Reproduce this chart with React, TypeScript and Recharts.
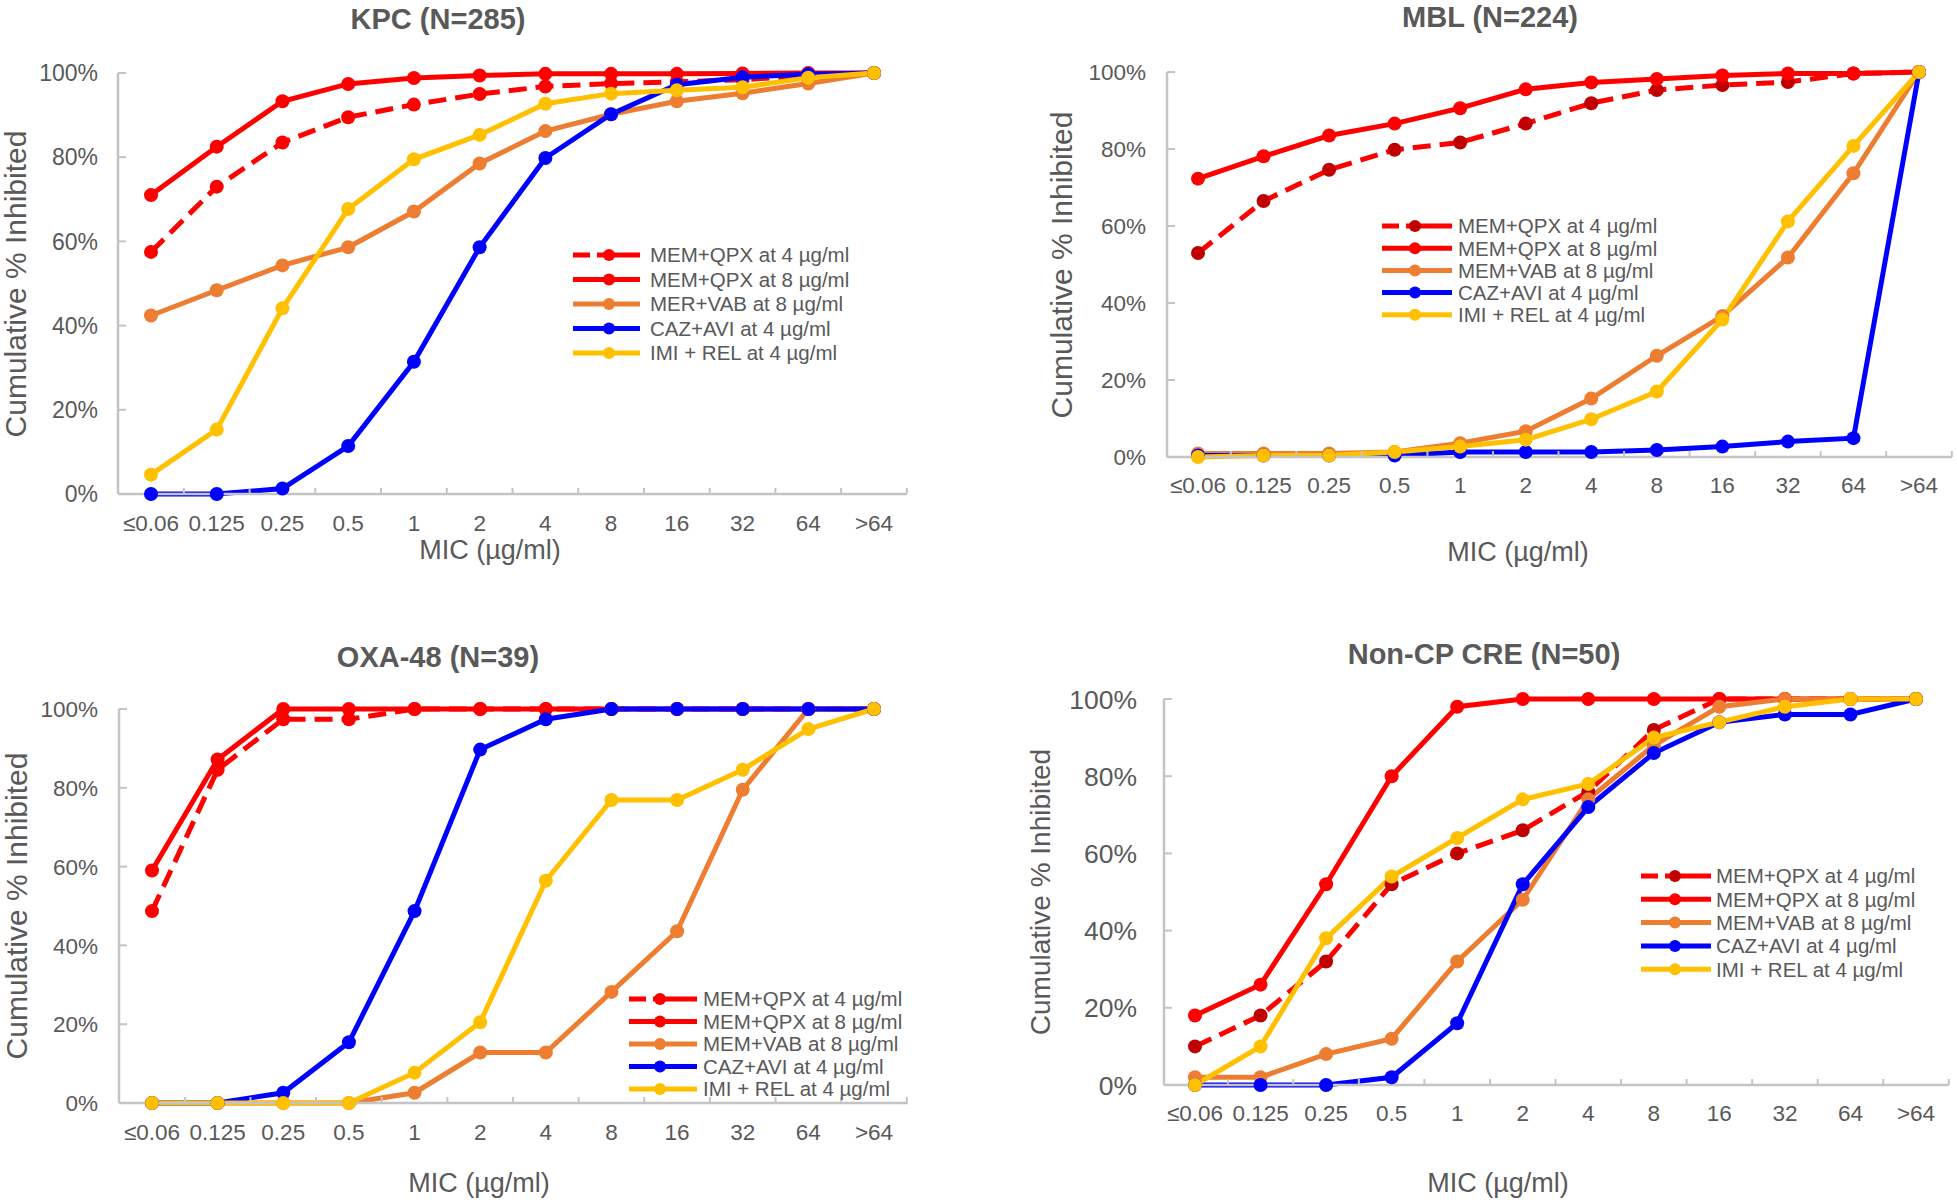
import React from 'react';
import { LineChart, Line, XAxis, YAxis, Legend } from 'recharts';

// ---------- shared categories / labels ----------
const MIC_LABELS = ['≤0.06', '0.125', '0.25', '0.5', '1', '2', '4', '8', '16', '32', '64', '>64'];
const Y_TICKS = [0, 20, 40, 60, 80, 100];
const SERIES_KEYS = ['q4', 'q8', 'vab', 'caz', 'imi'];
const NAMES_KPC = ['MEM+QPX at 4 µg/ml', 'MEM+QPX at 8 µg/ml', 'MER+VAB at 8 µg/ml', 'CAZ+AVI at 4 µg/ml', 'IMI + REL at 4 µg/ml'];
const NAMES_OTHER = ['MEM+QPX at 4 µg/ml', 'MEM+QPX at 8 µg/ml', 'MEM+VAB at 8 µg/ml', 'CAZ+AVI at 4 µg/ml', 'IMI + REL at 4 µg/ml'];
const SERIES_COLORS = ['#FF0000', '#FF0000', '#ED7D31', '#0000FF', '#FFC000'];
const Y_LABEL = 'Cumulative % Inhibited';
const X_LABEL = 'MIC (µg/ml)';

// ---------- KPC (N=285) ----------
const KPC_MEM_QPX_4 = [57.5, 73, 83.5, 89.5, 92.5, 95, 96.8, 97.5, 97.9, 98.4, 99.4, 100];
const KPC_MEM_QPX_8 = [71, 82.5, 93.3, 97.4, 98.8, 99.4, 99.8, 99.8, 99.8, 99.9, 100, 100];
const KPC_MER_VAB_8 = [42.4, 48.4, 54.3, 58.6, 67.1, 78.5, 86.2, 90.2, 93.3, 95.2, 97.5, 100];
const KPC_CAZ_AVI_4 = [0, 0, 1.3, 11.4, 31.4, 58.6, 79.8, 90.2, 97.2, 99, 99.7, 100];
const KPC_IMI_REL_4 = [4.6, 15.3, 44.1, 67.7, 79.5, 85.3, 92.7, 95.1, 95.9, 96.6, 98.9, 100];

// ---------- MBL (N=224) ----------
const MBL_MEM_QPX_4 = [53, 66.5, 74.6, 79.8, 81.7, 86.6, 91.9, 95.3, 96.6, 97.4, 99.6, 100];
const MBL_MEM_QPX_8 = [72.3, 78.1, 83.5, 86.6, 90.6, 95.5, 97.3, 98.2, 99.1, 99.6, 99.6, 100];
const MBL_MEM_VAB_8 = [0.9, 0.9, 0.9, 1.3, 3.6, 6.7, 15.2, 26.3, 36.6, 51.8, 73.7, 100];
const MBL_CAZ_AVI_4 = [0.4, 0.4, 0.4, 0.4, 1.3, 1.3, 1.3, 1.8, 2.7, 4.0, 4.9, 100];
const MBL_IMI_REL_4 = [0, 0.4, 0.4, 1.3, 2.7, 4.5, 9.8, 17, 35.7, 61.2, 80.8, 100];

// ---------- OXA-48 (N=39) ----------
const OXA_MEM_QPX_4 = [48.7, 84.6, 97.4, 97.4, 100, 100, 100, 100, 100, 100, 100, 100];
const OXA_MEM_QPX_8 = [59, 87.2, 100, 100, 100, 100, 100, 100, 100, 100, 100, 100];
const OXA_MEM_VAB_8 = [0, 0, 0, 0, 2.6, 12.8, 12.8, 28.2, 43.6, 79.5, 100, 100];
const OXA_CAZ_AVI_4 = [0, 0, 2.6, 15.4, 48.7, 89.7, 97.4, 100, 100, 100, 100, 100];
const OXA_IMI_REL_4 = [0, 0, 0, 0, 7.7, 20.5, 56.4, 76.9, 76.9, 84.6, 94.9, 100];

// ---------- Non-CP CRE (N=50) ----------
const NCP_MEM_QPX_4 = [10, 18, 32, 52, 60, 66, 76, 92, 100, 100, 100, 100];
const NCP_MEM_QPX_8 = [18, 26, 52, 80, 98, 100, 100, 100, 100, 100, 100, 100];
const NCP_MEM_VAB_8 = [2, 2, 8, 12, 32, 48, 74, 88, 98, 100, 100, 100];
const NCP_CAZ_AVI_4 = [0, 0, 0, 2, 16, 52, 72, 86, 94, 96, 96, 100];
const NCP_IMI_REL_4 = [0, 10, 38, 54, 64, 74, 78, 90, 94, 98, 100, 100];

// ---------- styles ----------
const FONT = "'Liberation Sans', Arial, Helvetica, sans-serif";
const TEXT_COLOR = '#595959';
const AXIS_COLOR = '#C4C4C4';
const Y_AXIS_W = 120;
const M_TOP = 20;
const M_RIGHT = 4;
const X_AXIS_H = 60;
const M_BOTTOM = 6;

type LegendCfg = { x: number; len: number; mk: number; tx: number; y0: number; gap: number };
type PanelCfg = {
  title: string;
  names: string[];
  series: number[][];
  axisX: number; plotRight: number; plotTop: number; plotBottom: number;
  padL: number; padR: number;
  yTickFont: number; yTickGap: number; xTickOffset: number;
  titlePos: [number, number]; yLabelPos: [number, number]; yLabelFont: number; micPos: [number, number];
  legend: LegendCfg;
  dashMarker: string;
};

const PANELS: PanelCfg[] = [
  {
    title: 'KPC (N=285)', names: NAMES_KPC,
    series: [KPC_MEM_QPX_4, KPC_MEM_QPX_8, KPC_MER_VAB_8, KPC_CAZ_AVI_4, KPC_IMI_REL_4],
    axisX: 118, plotRight: 907, plotTop: 73, plotBottom: 494, padL: 33, padR: 33,
    yTickFont: 23, yTickGap: 20, xTickOffset: 37,
    titlePos: [438, 19], yLabelPos: [16, 284], yLabelFont: 30, micPos: [490, 550],
    legend: { x: 573, len: 67, mk: 36, tx: 77, y0: 255, gap: 24.5 }, dashMarker: '#FF0000',
  },
  {
    title: 'MBL (N=224)', names: NAMES_OTHER,
    series: [MBL_MEM_QPX_4, MBL_MEM_QPX_8, MBL_MEM_VAB_8, MBL_CAZ_AVI_4, MBL_IMI_REL_4],
    axisX: 1167, plotRight: 1952, plotTop: 72, plotBottom: 457, padL: 31, padR: 33,
    yTickFont: 22.5, yTickGap: 21, xTickOffset: 36,
    titlePos: [1490, 17], yLabelPos: [1062, 265], yLabelFont: 30, micPos: [1518, 552],
    legend: { x: 1382, len: 70, mk: 33, tx: 76, y0: 226, gap: 22.2 }, dashMarker: '#C00000',
  },
  {
    title: 'OXA-48 (N=39)', names: NAMES_OTHER,
    series: [OXA_MEM_QPX_4, OXA_MEM_QPX_8, OXA_MEM_VAB_8, OXA_CAZ_AVI_4, OXA_IMI_REL_4],
    axisX: 119, plotRight: 908, plotTop: 709, plotBottom: 1103, padL: 33, padR: 34,
    yTickFont: 22.5, yTickGap: 21, xTickOffset: 37,
    titlePos: [438, 657], yLabelPos: [17, 906], yLabelFont: 30, micPos: [479, 1183],
    legend: { x: 629, len: 68, mk: 31, tx: 74, y0: 999, gap: 22.5 }, dashMarker: '#FF0000',
  },
  {
    title: 'Non-CP CRE (N=50)', names: NAMES_OTHER,
    series: [NCP_MEM_QPX_4, NCP_MEM_QPX_8, NCP_MEM_VAB_8, NCP_CAZ_AVI_4, NCP_IMI_REL_4],
    axisX: 1164, plotRight: 1949, plotTop: 699, plotBottom: 1085, padL: 31, padR: 33,
    yTickFont: 26.5, yTickGap: 27, xTickOffset: 36,
    titlePos: [1484, 654], yLabelPos: [1041, 892], yLabelFont: 28, micPos: [1498, 1183],
    legend: { x: 1641, len: 70, mk: 34, tx: 75, y0: 876, gap: 23.3 }, dashMarker: '#C00000',
  },
];

function TextAt({ x, y, size, bold, rotate, children }: any) {
  return (
    <div
      style={{
        position: 'absolute', left: x, top: y,
        transform: `translate(-50%, -50%)${rotate ? ' rotate(-90deg)' : ''}`,
        fontSize: size, fontWeight: bold ? 700 : 400, color: TEXT_COLOR,
        fontFamily: FONT, whiteSpace: 'nowrap', lineHeight: 1,
      }}
    >
      {children}
    </div>
  );
}

function Panel({ cfg }: { cfg: PanelCfg }) {
  const data = MIC_LABELS.map((mic, i) => {
    const row: any = { mic };
    SERIES_KEYS.forEach((k, s) => { row[k] = cfg.series[s][i]; });
    return row;
  });
  const chartLeft = cfg.axisX - Y_AXIS_W;
  const chartTop = cfg.plotTop - M_TOP;
  const width = Y_AXIS_W + (cfg.plotRight - cfg.axisX) + M_RIGHT;
  const height = M_TOP + (cfg.plotBottom - cfg.plotTop) + X_AXIS_H + M_BOTTOM;
  const step = (cfg.plotRight - cfg.axisX - cfg.padL - cfg.padR) / (MIC_LABELS.length - 1);
  const half = step / 2;

  const XTick = (props: any) => {
    const { x, y, payload } = props;
    const axisY = y - cfg.xTickOffset;
    return (
      <g>
        <line x1={x + half} x2={x + half} y1={axisY} y2={axisY - 6} stroke={AXIS_COLOR} strokeWidth={2} />
        <text x={x} y={y} textAnchor="middle" fontSize={22.5} fill={TEXT_COLOR} fontFamily={FONT}>
          {payload.value}
        </text>
      </g>
    );
  };

  const YTick = (props: any) => {
    const { x, y, payload } = props;
    const ax = x + cfg.yTickGap;
    return (
      <g>
        <line x1={ax} x2={ax + 8} y1={y} y2={y} stroke={AXIS_COLOR} strokeWidth={2} />
        <text x={x} y={y} dy={0.36 * cfg.yTickFont} textAnchor="end" fontSize={cfg.yTickFont} fill={TEXT_COLOR} fontFamily={FONT}>
          {`${payload.value}%`}
        </text>
      </g>
    );
  };

  const L = cfg.legend;
  const legendContent = (props: any) => {
    const payload = [...(props.payload || [])].sort(
      (a: any, b: any) => SERIES_KEYS.indexOf(a.dataKey) - SERIES_KEYS.indexOf(b.dataKey)
    );
    return (
      <svg width={L.tx + 240} height={L.gap * 5 + 10} style={{ display: 'block', overflow: 'visible' }}>
        {payload.map((entry: any, i: number) => {
          const idx = SERIES_KEYS.indexOf(entry.dataKey);
          const cy = 12 + i * L.gap;
          return (
            <g key={entry.dataKey}>
              <line x1={0} x2={L.len} y1={cy} y2={cy} stroke={SERIES_COLORS[idx]} strokeWidth={5}
                strokeDasharray={idx === 0 ? '17 7 80' : undefined} />
              <circle cx={L.mk} cy={cy} r={6} fill={idx === 0 ? cfg.dashMarker : SERIES_COLORS[idx]} />
              <text x={L.tx} y={cy + 7.3} fontSize={20.5} fill={TEXT_COLOR} fontFamily={FONT}>{entry.value}</text>
            </g>
          );
        })}
      </svg>
    );
  };

  return (
    <>
      <div style={{ position: 'absolute', left: chartLeft, top: chartTop }}>
        <LineChart width={width} height={height} data={data}
          margin={{ top: M_TOP, right: M_RIGHT, left: 0, bottom: M_BOTTOM }}>
          <XAxis dataKey="mic" type="category" interval={0} height={X_AXIS_H}
            padding={{ left: cfg.padL, right: cfg.padR }}
            axisLine={{ stroke: AXIS_COLOR, strokeWidth: 2.5 }} tickLine={false}
            tickSize={0} tickMargin={cfg.xTickOffset} tick={<XTick />} />
          <YAxis type="number" domain={[0, 100]} ticks={Y_TICKS} width={Y_AXIS_W}
            axisLine={{ stroke: AXIS_COLOR, strokeWidth: 2.5 }} tickLine={false}
            tickSize={0} tickMargin={cfg.yTickGap} tick={<YTick />} />
          <Legend layout="vertical" align="center" verticalAlign="middle" content={legendContent}
            wrapperStyle={{ position: 'absolute', left: L.x - chartLeft, top: L.y0 - 12 - chartTop, width: L.tx + 240, height: L.gap * 5 + 10 }} />
          {SERIES_KEYS.map((k, s) => (
            <Line key={k} type="linear" dataKey={k} name={cfg.names[s]}
              stroke={SERIES_COLORS[s]} strokeWidth={5}
              strokeDasharray={s === 0 ? '18 9' : undefined}
              dot={{ r: 7, fill: s === 0 ? cfg.dashMarker : SERIES_COLORS[s], stroke: 'none', strokeDasharray: 'none' }}
              activeDot={false} isAnimationActive={false} />
          ))}
        </LineChart>
      </div>
      <TextAt x={cfg.titlePos[0]} y={cfg.titlePos[1]} size={29} bold>{cfg.title}</TextAt>
      <TextAt x={cfg.yLabelPos[0]} y={cfg.yLabelPos[1]} size={cfg.yLabelFont} rotate>{Y_LABEL}</TextAt>
      <TextAt x={cfg.micPos[0]} y={cfg.micPos[1]} size={27}>{X_LABEL}</TextAt>
    </>
  );
}

export default function App() {
  return (
    <div style={{ position: 'absolute', left: 0, top: 0, width: 1957, height: 1203, background: '#fff', overflow: 'hidden' }}>
      {PANELS.map((p) => <Panel key={p.title} cfg={p} />)}
    </div>
  );
}
